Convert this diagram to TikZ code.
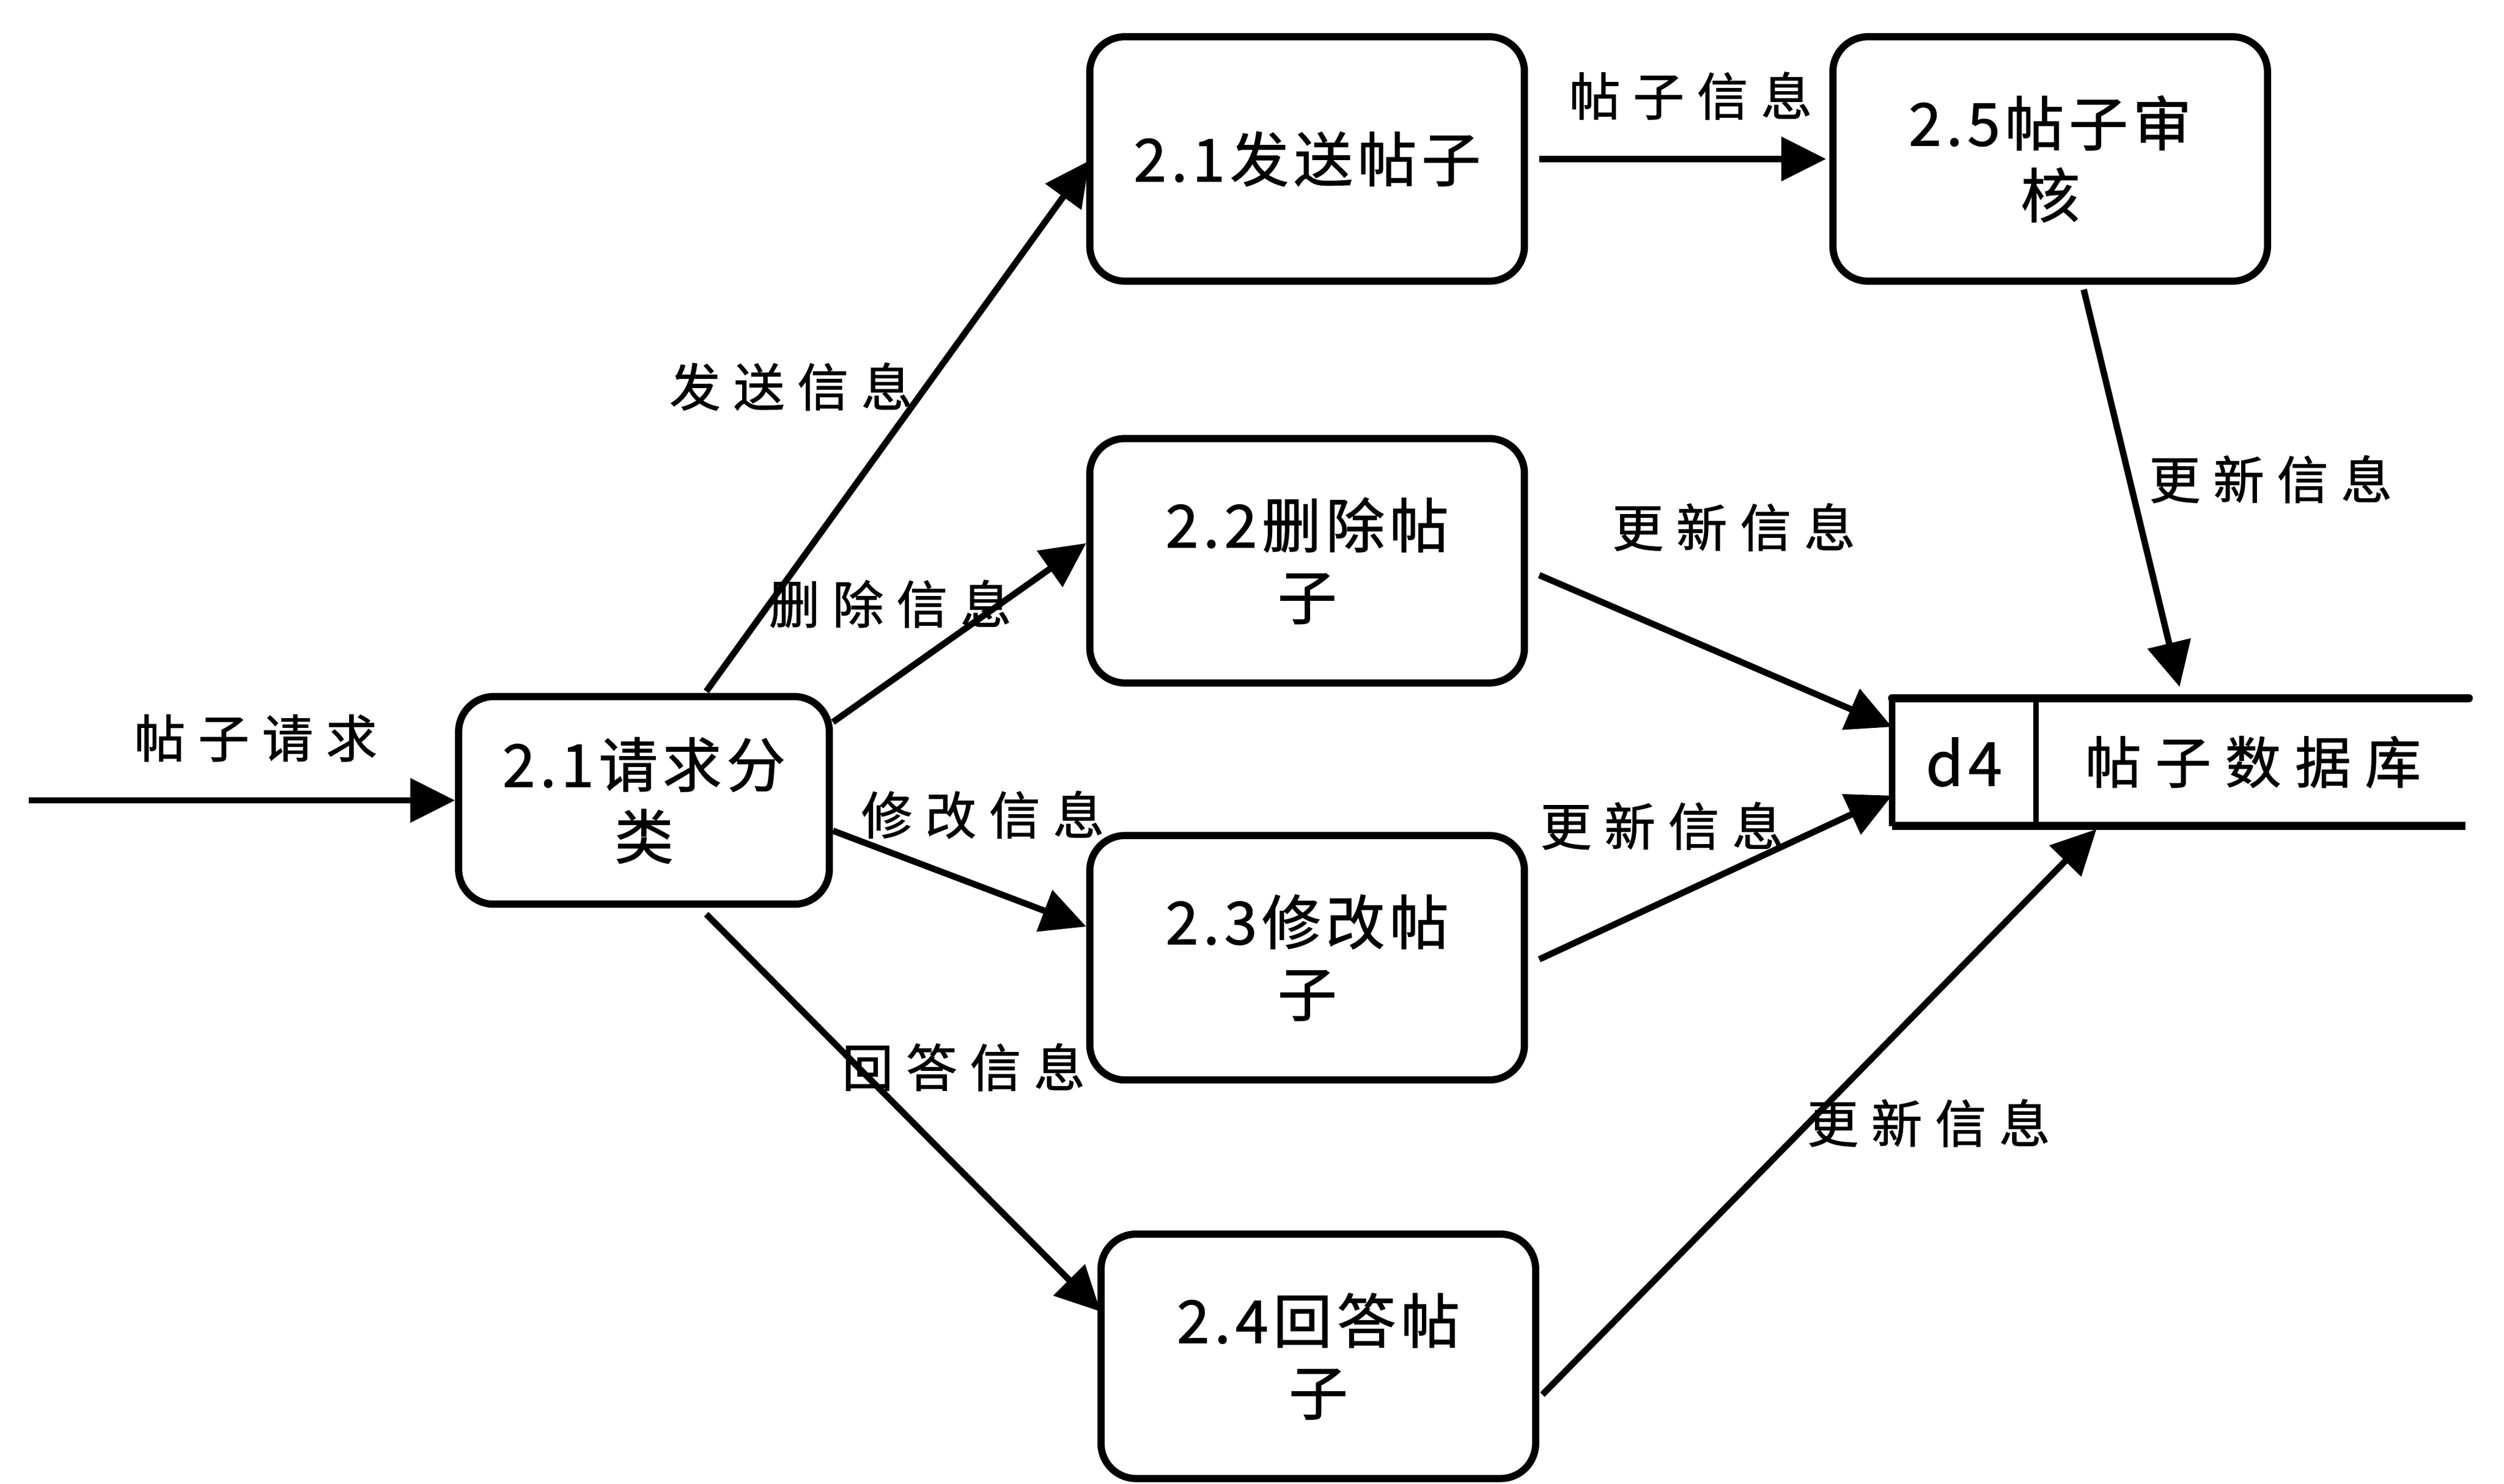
\documentclass[tikz,border=0pt]{standalone}
\usepackage{fontspec}
\setmainfont{Noto Sans CJK SC}[LetterSpace=8,FakeBold=1.2]
\newfontfamily\labfam{Noto Sans CJK SC}[LetterSpace=25,FakeBold=1.2]
\usetikzlibrary{arrows.meta,calc}
\begin{document}
\begin{tikzpicture}[x=1pt,y=-1pt,
  proc/.style={draw, line width=4.5pt, rounded corners=22pt, minimum width=272pt, minimum height=153pt, align=center, inner sep=0pt, font=\fontsize{37}{45}\selectfont},
  flow/.style={line width=4pt, -{Triangle[length=28pt,width=27pt]}},
  lbl/.style={inner sep=0pt, font=\labfam\fontsize{32}{36}\selectfont},
  storeline/.style={line width=5pt}]
\useasboundingbox (0,0) rectangle (1567,928.6);
% processes
\node[proc, minimum width=232pt, minimum height=130pt] (A) at (403,501) {2.1请求分\\类};
\node[proc] (B) at (818,99.5) {2.1发送帖子};
\node[proc] (C) at (818,351) {2.2删除帖\\子};
\node[proc] (D) at (818,599.5) {2.3修改帖\\子};
\node[proc] (E) at (825,849) {2.4回答帖\\子};
\node[proc] (F) at (1283,99.5) {2.5帖子审\\核};
% data store
\coordinate (stl) at (1184,437);
\coordinate (str) at (1545,437);
\coordinate (sbl) at (1184,517);
\coordinate (sbr) at (1543,517);
\coordinate (dvt) at (1274,437);
\coordinate (dvb) at (1274,517);
\draw[storeline, line cap=round] (stl) -- (str);
\draw[storeline] (sbl) -- (sbr);
\draw[line width=4pt] (stl) -- (sbl);
\draw[line width=3.5pt] (dvt) -- (dvb);
\node[inner sep=0pt, font=\fontsize{38}{42}\selectfont] (d4) at (1229,477) {d4};
\node[inner sep=0pt, font=\labfam\fontsize{35}{40}\selectfont] (db) at (1410,477) {帖子数据库};
% input
\coordinate (in) at (18,501);
\draw[flow] (in) -- (A.west);
\node[lbl] at (160,462) {帖子请求};
% flows from A
\draw[flow] ($(A.north)+(39,-1)$) -- ($(B.west)+(2,1)$);
\node[lbl] at (495,242) {发送信息};
\draw[flow] ($(A.east)+(0,-49)$) -- ($(C.west)+(0,-11)$);
\node[lbl] at (557,378) {删除信息};
\draw[flow] ($(A.east)+(0,19)$) -- ($(D.west)+(0,-19.5)$);
\node[lbl] at (615,510) {修改信息};
\draw[flow] ($(A.south)+(39,4)$) -- ($(E.west)+(2,-28)$);
\node[lbl] at (603,668) {回答信息};
% B to F
\draw[flow] ($(B.east)+(7,0)$) -- ($(F.west)+(-2,0)$);
\node[lbl] at (1058,60) {帖子信息};
% to store
\coordinate (s1) at (1184,455);
\coordinate (s2) at (1184,498);
\coordinate (s3) at (1312,519);
\coordinate (s4) at (1364,430);
\draw[flow] ($(C.east)+(7,9)$) -- (s1);
\node[lbl] at (1085,330) {更新信息};
\draw[flow] ($(D.east)+(7,1)$) -- (s2);
\node[lbl] at (1040,517) {更新信息};
\draw[flow] ($(E.east)+(2,24)$) -- (s3);
\node[lbl] at (1207,703) {更新信息};
\draw[flow] ($(F.south)+(21,3)$) -- (s4);
\node[lbl] at (1421,300) {更新信息};
\end{tikzpicture}
\end{document}
